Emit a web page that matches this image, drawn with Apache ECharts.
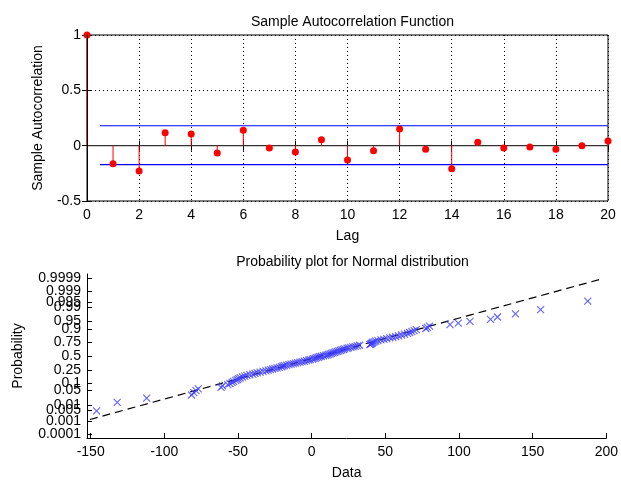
<!DOCTYPE html>
<html>
<head>
<meta charset="utf-8">
<script src="https://cdn.jsdelivr.net/npm/echarts@6/dist/echarts.min.js"></script>
<style>html,body{margin:0;padding:0;background:#fff}#c{width:621px;height:481px}</style>
</head>
<body>
<div id="c"></div>
<script>
// ---- Top panel: sample autocorrelation ----
const lags = [0,1,2,3,4,5,6,7,8,9,10,11,12,13,14,15,16,17,18,19,20];
const acf = [1,-0.163,-0.23,0.117,0.105,-0.066,0.14,-0.021,-0.057,0.054,-0.13,-0.045,0.15,-0.033,-0.208,0.03,-0.021,-0.012,-0.033,0.0,0.042];
const boundUpper = 0.18;
const boundLower = -0.172;
const boundLagRange = [0.5, 20];

// ---- Bottom panel: normal probability plot (sorted data) ----
const sortedData = [-146,-132,-112,-81.5,-80,-78.5,-77,-61.5,-60.5,-57,
 -55.5,-54,-53,-51.5,-50.5,-49.5,-48.5,-47,-45.5,-44,
 -42,-40,-38.5,-37,-35,-33,-31,-29.5,-28,-26.5,
 -25,-23.5,-22,-20.5,-19.5,-18.5,-17,-15.5,-14,-12.5,
 -11,-9.5,-8,-6.5,-5,-3.5,-2,-1,0.5,1.5,
 2.5,3.5,4.5,5.5,6.5,8,9.5,10.5,11.5,12.5,
 13.5,14.5,15.5,16.5,17.5,18.5,19.5,20.5,21.5,22.5,
 24,25,26.5,28,29.5,31,32.5,39.5,40,40.5,
 41,41.5,42.5,43.5,45,47,49,51,53,55,
 57,59,61,63,65,66.5,68,69.5,71,77.5,
 78.5,80,93.9,99.5,107.4,121.4,126.1,138.3,155.4,187.4];
const probTicks = [0.0001,0.0005,0.001,0.005,0.01,0.05,0.1,0.25,0.5,0.75,0.9,0.95,0.99,0.995,0.999,0.9995,0.9999];
const probTickLabels = ['0.0001','0.0005','0.001','0.005','0.01','0.05','0.1','0.25','0.5','0.75','0.9','0.95','0.99','0.995','0.999','0.9995','0.9999'];
const dataXTicks = [-150,-100,-50,0,50,100,150,200];
const refLine = [[-150.5,-3.02],[197.5,3.68]]; // [data, normal quantile]

function probit(p){
 const a=[-3.969683028665376e+01,2.209460984245205e+02,-2.759285104469687e+02,1.383577518672690e+02,-3.066479806614716e+01,2.506628277459239e+00];
 const b=[-5.447609879822406e+01,1.615858368580409e+02,-1.556989798598866e+02,6.680131188771972e+01,-1.328068155288572e+01];
 const c=[-7.784894002430293e-03,-3.223964580411365e-01,-2.400758277161838e+00,-2.549732539343734e+00,4.374664141464968e+00,2.938163982698783e+00];
 const d=[7.784695709041462e-03,3.224671290700398e-01,2.445134137142996e+00,3.754408661907416e+00];
 const pl=0.02425, ph=1-pl; let q,r;
 if(p<pl){q=Math.sqrt(-2*Math.log(p));return (((((c[0]*q+c[1])*q+c[2])*q+c[3])*q+c[4])*q+c[5])/((((d[0]*q+d[1])*q+d[2])*q+d[3])*q+1);}
 if(p<=ph){q=p-0.5;r=q*q;return (((((a[0]*r+a[1])*r+a[2])*r+a[3])*r+a[4])*r+a[5])*q/(((((b[0]*r+b[1])*r+b[2])*r+b[3])*r+b[4])*r+1);}
 q=Math.sqrt(-2*Math.log(1-p));return -(((((c[0]*q+c[1])*q+c[2])*q+c[3])*q+c[4])*q+c[5])/((((d[0]*q+d[1])*q+d[2])*q+d[3])*q+1);
}

const n = sortedData.length;
const probPoints = sortedData.map((v,i)=>[v, probit((i+0.5)/n)]);
const zTicks = probTicks.map(probit);
const acfPoints = lags.map((l,i)=>[l, acf[i]]);

const FONT = '"Liberation Sans", Arial, sans-serif';
const FS = 14;
const txt = {color:'#000', fontFamily:FONT, fontSize:FS};

const chart = echarts.init(document.getElementById('c'), null, {renderer:'canvas'});
chart.setOption({
 animation:false,
 backgroundColor:'#fff',
 title:[
  {text:'Sample Autocorrelation Function', left:347.5, top:10, textAlign:'center', textStyle:Object.assign({fontWeight:'normal'},txt)},
  {text:'Probability plot for Normal distribution', left:347.5, top:250, textAlign:'center', textStyle:Object.assign({fontWeight:'normal'},txt)}
 ],
 grid:[
  {left:87, top:35, width:521, height:166, show:true, borderColor:'#000', borderWidth:1, backgroundColor:'transparent'},
  {left:87, top:274, width:521, height:166}
 ],
 xAxis:[
  {gridIndex:0, type:'value', min:0, max:20, interval:2, name:'Lag', nameLocation:'middle', nameGap:28, nameTextStyle:txt,
   axisLine:{show:true, lineStyle:{color:'#000'}}, axisTick:{inside:true, length:5, lineStyle:{color:'#000'}},
   axisLabel:Object.assign({margin:7, showMinLabel:true, showMaxLabel:true}, txt),
   splitLine:{show:true, lineStyle:{color:'#000', type:[1,3], width:1}}},
  {gridIndex:0, type:'value', min:0, max:20, interval:2, position:'top',
   axisLine:{show:true, lineStyle:{color:'#000'}}, axisTick:{inside:true, length:5, lineStyle:{color:'#000'}},
   axisLabel:{show:false}, splitLine:{show:false}},
  {gridIndex:1, type:'value', min:-152.5, max:200, name:'Data', nameLocation:'middle', nameGap:28, nameTextStyle:txt,
   axisLine:{show:true, onZero:false, lineStyle:{color:'#000'}},
   axisTick:{inside:true, length:5, customValues:dataXTicks, lineStyle:{color:'#000'}},
   axisLabel:Object.assign({margin:7, customValues:dataXTicks, showMinLabel:true, showMaxLabel:true}, txt),
   splitLine:{show:false}}
 ],
 yAxis:[
  {gridIndex:0, type:'value', min:-0.5, max:1, interval:0.5, name:'Sample Autocorrelation', nameLocation:'middle', nameGap:42, nameTextStyle:txt,
   axisLine:{show:true, lineStyle:{color:'#000'}}, axisTick:{inside:true, length:5, lineStyle:{color:'#000'}},
   axisLabel:Object.assign({margin:6}, txt),
   splitLine:{show:true, lineStyle:{color:'#000', type:[1,3], width:1}}},
  {gridIndex:0, type:'value', min:-0.5, max:1, interval:0.5, position:'right',
   axisLine:{show:true, lineStyle:{color:'#000'}}, axisTick:{inside:true, length:5, lineStyle:{color:'#000'}},
   axisLabel:{show:false}, splitLine:{show:false}},
  {gridIndex:1, type:'value', min:-3.9, max:3.9, name:'Probability', nameLocation:'middle', nameGap:62, nameTextStyle:txt,
   axisLine:{show:true, onZero:false, lineStyle:{color:'#000'}},
   axisTick:{inside:true, length:5, customValues:zTicks, lineStyle:{color:'#000'}},
   axisLabel:Object.assign({margin:6, customValues:zTicks, hideOverlap:false, showMinLabel:true, showMaxLabel:true,
     formatter:function(v){let k=0,best=1e9;zTicks.forEach((z,i)=>{const d=Math.abs(z-v);if(d<best){best=d;k=i;}});return probTickLabels[k];}}, txt),
   splitLine:{show:false}},
  {gridIndex:0, type:'value', min:-0.5, max:1, position:'left', offset:0, z:10,
   axisLine:{show:true, lineStyle:{color:'#000'}}, axisTick:{show:false}, axisLabel:{show:false}, splitLine:{show:false}}
 ],
 series:[
  {type:'line', xAxisIndex:0, yAxisIndex:0, data:[[0,0],[20,0]], symbol:'none', lineStyle:{color:'#333', width:1.2}, silent:true, z:3},
  {type:'line', xAxisIndex:0, yAxisIndex:0, data:[[boundLagRange[0],boundUpper],[boundLagRange[1],boundUpper]], symbol:'none', lineStyle:{color:'#0000ff', width:1.2}, z:3},
  {type:'line', xAxisIndex:0, yAxisIndex:0, data:[[boundLagRange[0],boundLower],[boundLagRange[1],boundLower]], symbol:'none', lineStyle:{color:'#0000ff', width:1.2}, z:3},
  {type:'custom', xAxisIndex:0, yAxisIndex:0, data:acfPoints, z:4,
   renderItem:function(params, api){
     const p0 = api.coord([api.value(0), 0]);
     const p1 = api.coord([api.value(0), api.value(1)]);
     return {type:'line', shape:{x1:p0[0], y1:p0[1], x2:p1[0], y2:p1[1]}, style:{stroke:'#ff0000', lineWidth:1}};
   }},
  {type:'scatter', xAxisIndex:0, yAxisIndex:0, data:acfPoints, symbol:'circle', symbolSize:7, itemStyle:{color:'#ff0000', opacity:1}, clip:false, z:5},
  {type:'line', xAxisIndex:2, yAxisIndex:2, data:refLine, symbol:'none', lineStyle:{color:'#000', width:1.2, type:[8,5]}, z:3},
  {type:'scatter', xAxisIndex:2, yAxisIndex:2, data:probPoints, symbol:'path://M0,0L10,10M10,0L0,10', symbolSize:7,
   itemStyle:{color:'transparent', borderColor:'#3a3aff', borderWidth:1.1}, z:4}
 ]
});
</script>
</body>
</html>
